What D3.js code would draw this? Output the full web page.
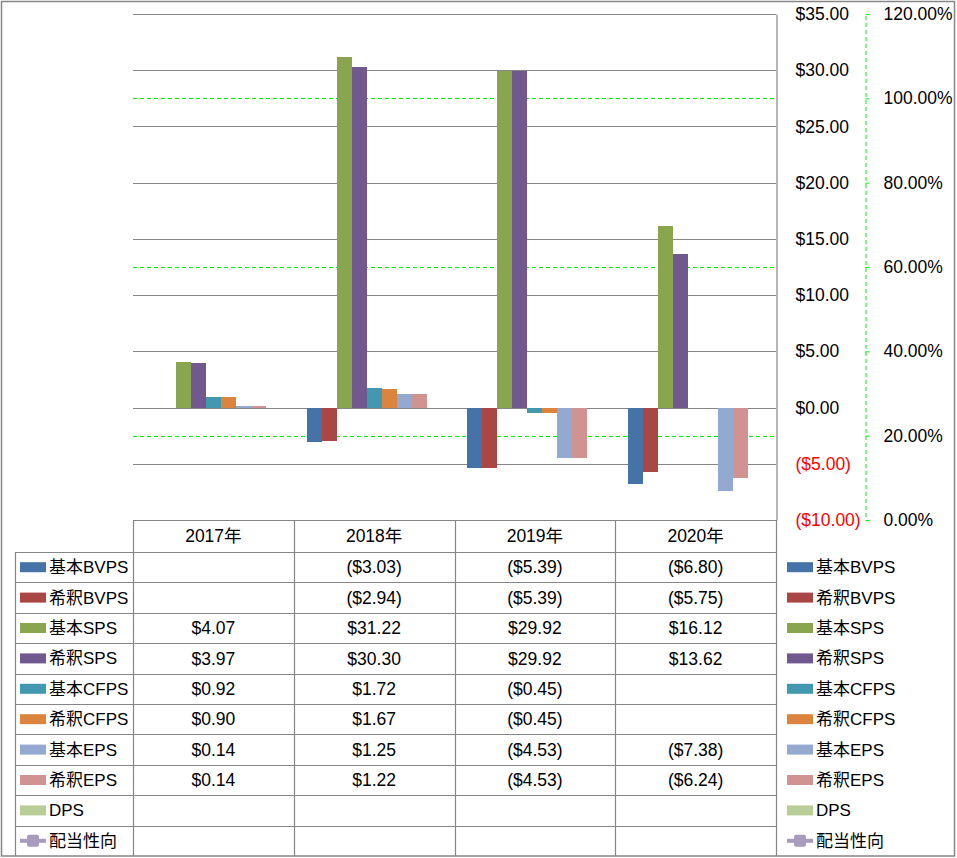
<!DOCTYPE html>
<html><head><meta charset="utf-8">
<script src="https://cdn.jsdelivr.net/npm/d3@7"></script>
<style>
body{margin:0;background:#fff;}
text{font-family:"Liberation Sans","Noto Sans CJK JP",sans-serif;}
</style></head>
<body>
<svg id="chart" width="957" height="858"></svg>
<script>
// ---- data ----
const categories = ["2017年", "2018年", "2019年", "2020年"];
const seriesNames = ["基本BVPS", "希釈BVPS", "基本SPS", "希釈SPS", "基本CFPS", "希釈CFPS", "基本EPS", "希釈EPS", "DPS", "配当性向"];
const basicBVPS  = [null, -3.03, -5.39, -6.80];
const dilutedBVPS= [null, -2.94, -5.39, -5.75];
const basicSPS   = [4.07, 31.22, 29.92, 16.12];
const dilutedSPS = [3.97, 30.30, 29.92, 13.62];
const basicCFPS  = [0.92, 1.72, -0.45, null];
const dilutedCFPS= [0.90, 1.67, -0.45, null];
const basicEPS   = [0.14, 1.25, -4.53, -7.38];
const dilutedEPS = [0.14, 1.22, -4.53, -6.24];
const DPS        = [null, null, null, null];
const payoutRatio= [null, null, null, null];
const dollarTicks = [-10, -5, 0, 5, 10, 15, 20, 25, 30, 35];
const percentTicks = [0, 0.2, 0.4, 0.6, 0.8, 1.0, 1.2];
const colors = ["#4572A7", "#AA4643", "#89A54E", "#71588F", "#4198AF", "#DB843D", "#93A9CF", "#D19392", "#B9CD96", "#A99BBD"];

const barSeries = [basicBVPS, dilutedBVPS, basicSPS, dilutedSPS, basicCFPS, dilutedCFPS, basicEPS, dilutedEPS, DPS];
const allSeries = barSeries.concat([payoutRatio]);

// ---- layout ----
const svg = d3.select("#chart");
const L = 133, R = 776, T = 14, B = 520;
const tableBottom = 856, rowHeaderLeft = 15;
const rowH = (tableBottom - 552) / seriesNames.length;
const headerBottom = 552;

const x0 = d3.scaleBand().domain(categories).range([L, R]);
const x1 = d3.scaleBand().domain(d3.range(barSeries.length)).range([0, x0.bandwidth()]).paddingInner(0).paddingOuter(0.86);
const yL = d3.scaleLinear().domain([-10, 35]).range([B, T]);
const yR = d3.scaleLinear().domain([0, 1.2]).range([B, T]);

const fmtD = v => v < 0 ? "(" + d3.format("$,.2f")(-v) + ")" : d3.format("$,.2f")(v);
const fmtP = d3.format(".2%");

// outer border
svg.append("rect").attr("x", 1.5).attr("y", 1.5).attr("width", 953).attr("height", 854.5)
  .attr("fill", "none").attr("stroke", "#868686").attr("stroke-width", 1.5);

// percent gridlines (green dashed)
svg.append("g").selectAll("line").data(percentTicks).join("line")
  .attr("x1", L).attr("x2", R)
  .attr("y1", d => Math.round(yR(d)) + 0.5).attr("y2", d => Math.round(yR(d)) + 0.5)
  .attr("stroke", "#00EE00").attr("stroke-dasharray", "4,3").attr("stroke-width", 1);

// dollar gridlines (solid gray)
svg.append("g").selectAll("line").data(dollarTicks).join("line")
  .attr("x1", L).attr("x2", R)
  .attr("y1", d => Math.round(yL(d)) + 0.5).attr("y2", d => Math.round(yL(d)) + 0.5)
  .attr("stroke", "#868686").attr("stroke-width", 1.2);

// bars
const gBars = svg.append("g").attr("shape-rendering", "crispEdges");
barSeries.forEach((vals, si) => {
  gBars.selectAll(null).data(categories.map((c, i) => ({c, v: vals[i]})).filter(d => d.v != null)).join("rect")
    .attr("x", d => x0(d.c) + x1(si))
    .attr("width", x1.bandwidth())
    .attr("y", d => Math.min(yL(d.v), yL(0)))
    .attr("height", d => Math.abs(yL(d.v) - yL(0)))
    .attr("fill", colors[si]);
});

// dollar axis (right)
const axD = d3.axisRight(yL).tickValues(dollarTicks).tickSize(0).tickPadding(19).tickFormat(fmtD);
const gD = svg.append("g").attr("transform", `translate(${R + 0.5},0)`).call(axD);
gD.select(".domain").attr("stroke", "#868686").attr("stroke-width", 1.2);
gD.selectAll("text").attr("font-size", 17.5).attr("fill", d => d < 0 ? "#FF0000" : "#000");

// percent axis (far right)
const axP = d3.axisRight(yR).tickValues(percentTicks).tickSize(4).tickPadding(14).tickSizeOuter(4).tickFormat(fmtP);
const gP = svg.append("g").attr("transform", `translate(865.5,0)`).call(axP);
gP.select(".domain").attr("stroke", "#00EE00").attr("stroke-dasharray", "4,3");
gP.selectAll(".tick line").attr("stroke", "#00EE00");
gP.selectAll("text").attr("font-size", 17.5).attr("fill", "#000");

// ---- data table ----
const gT = svg.append("g");
const gridColor = "#868686";
const colEdges = categories.map(c => x0(c)).concat([R]);
gT.selectAll(".hv").data(colEdges).join("line")
  .attr("x1", d => Math.round(d) + 0.5).attr("x2", d => Math.round(d) + 0.5)
  .attr("y1", B).attr("y2", tableBottom).attr("stroke", gridColor).attr("stroke-width", 1.2);
gT.selectAll(".ht").data(categories).join("text")
  .attr("x", d => x0(d) + x0.bandwidth() / 2).attr("y", (B + headerBottom) / 2)
  .attr("dy", "0.35em").attr("text-anchor", "middle").attr("font-size", 17.5).text(d => d);
const rowEdges = d3.range(seriesNames.length).map(i => headerBottom + i * rowH);
gT.selectAll(".rl").data(rowEdges).join("line")
  .attr("x1", rowHeaderLeft).attr("x2", R)
  .attr("y1", d => Math.round(d) + 0.5).attr("y2", d => Math.round(d) + 0.5)
  .attr("stroke", gridColor).attr("stroke-width", 1.2);
gT.append("line").attr("x1", rowHeaderLeft + 0.5).attr("x2", rowHeaderLeft + 0.5)
  .attr("y1", headerBottom).attr("y2", tableBottom).attr("stroke", gridColor).attr("stroke-width", 1.2);

function legendKey(g, x, cy, si) {
  if (si === seriesNames.length - 1) {
    g.append("line").attr("x1", x).attr("x2", x + 26).attr("y1", cy).attr("y2", cy)
      .attr("stroke", colors[si]).attr("stroke-width", 4);
    g.append("rect").attr("x", x + 7).attr("y", cy - 6).attr("width", 12).attr("height", 12)
      .attr("rx", 2).attr("fill", colors[si]);
  } else {
    g.append("rect").attr("x", x).attr("y", cy - 5).attr("width", 26).attr("height", 10)
      .attr("fill", colors[si]);
  }
}

seriesNames.forEach((name, si) => {
  const cy = headerBottom + si * rowH + rowH / 2;
  legendKey(gT, 20, cy, si);
  gT.append("text").attr("x", 49).attr("y", cy).attr("dy", "0.35em").attr("font-size", 17).text(name);
  const vals = allSeries[si];
  categories.forEach((c, i) => {
    if (vals[i] != null) {
      gT.append("text").attr("x", x0(c) + x0.bandwidth() / 2).attr("y", cy).attr("dy", "0.35em")
        .attr("text-anchor", "middle").attr("font-size", 17.5).text(fmtD(vals[i]));
    }
  });
  legendKey(svg, 787, cy, si);
  svg.append("text").attr("x", 816).attr("y", cy).attr("dy", "0.35em").attr("font-size", 17).text(name);
});
</script>
</body></html>
